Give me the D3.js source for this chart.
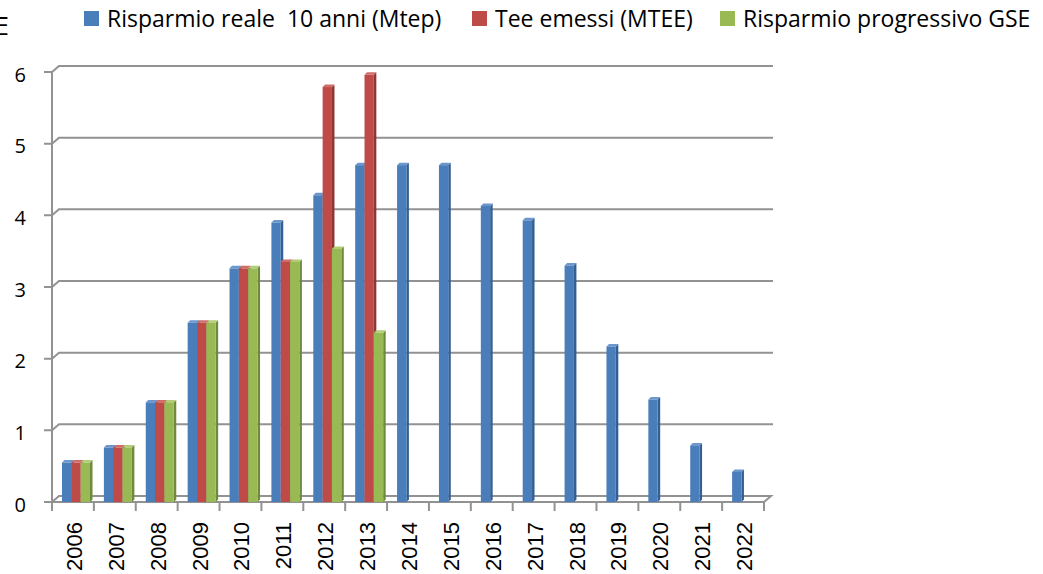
<!DOCTYPE html>
<html lang="it">
<head>
<meta charset="utf-8">
<title>Risparmio energetico</title>
<style>
  body { margin: 0; padding: 0; background: white; }
  svg { display: block; }
  .legend text { font-family: 'Open Sans', sans-serif; font-size: 23px; fill: #000; }
  .ylab text { font-family: 'Open Sans', sans-serif; font-size: 20px; fill: #000; }
  .xlab text { font-family: 'Liberation Sans', Arial, sans-serif; font-size: 22px; fill: #000; }
  .grid { fill: none; stroke: #929292; stroke-width: 2; }
</style>
</head>
<body>
<div id="chart"></div>
<script src="https://cdn.jsdelivr.net/npm/d3@7"></script>
<script>

const years = ["2006","2007","2008","2009","2010","2011","2012","2013","2014","2015","2016","2017","2018","2019","2020","2021","2022"];
const risparmioReale = [0.55, 0.76, 1.39, 2.5, 3.26, 3.9, 4.28, 4.7, 4.7, 4.7, 4.13, 3.93, 3.3, 2.17, 1.43, 0.79, 0.42];
const teeEmessi = [0.55, 0.76, 1.39, 2.5, 3.26, 3.35, 5.79, 5.96];
const risparmioGSE = [0.55, 0.76, 1.39, 2.5, 3.26, 3.35, 3.53, 2.36];
const seriesNames = ["Risparmio reale  10 anni (Mtep)", "Tee emessi (MTEE)", "Risparmio progressivo GSE"];
const yTicks = [0, 1, 2, 3, 4, 5, 6];

const width = 1043, height = 574;
const plotLeft = 52, plotRight = 764, plotBottom = 502, plotTop = 72;
const depthX = 7, depthY = -6;   // offset of the back wall
const side = 2.5;                 // thickness of the bar sides

const colors = [
  {front: "#4a7ebb", side: "#345f94", top: "#6b97cc"},
  {front: "#be4b48", side: "#8f3532", top: "#d16c69"},
  {front: "#98b954", side: "#6f8a3a", top: "#b1cd76"}
];

const series = [risparmioReale, teeEmessi, risparmioGSE];

const svg = d3.select("#chart").append("svg")
  .attr("width", width)
  .attr("height", height);

const x = d3.scaleBand()
  .domain(years)
  .range([plotLeft, plotRight]);

const xSub = d3.scaleBand()
  .domain(d3.range(series.length))
  .range([10, 38]);

const y = d3.scaleLinear()
  .domain([0, 6])
  .range([plotBottom, plotTop]);

// back wall gridlines with the 3d bend
const grid = svg.append("g");

grid.selectAll(null)
  .data(yTicks.filter(function(d){ return d > 0; }))
  .enter()
  .append("path")
  .attr("class", "grid")
  .attr("d", function(d){
    const yy = y(d);
    return "M" + (plotLeft - 8) + "," + yy + "L" + plotLeft + "," + yy +
      "L" + (plotLeft + depthX) + "," + (yy + depthY) + "L" + (plotRight + depthX + 2) + "," + (yy + depthY);
  });

// floor
grid.append("path")
  .attr("class", "grid")
  .attr("d", "M" + (plotLeft - 8) + "," + y(0) + "L" + plotRight + "," + y(0) +
    "L" + (plotRight + depthX) + "," + (y(0) + depthY) +
    "L" + (plotLeft + depthX) + "," + (y(0) + depthY) + "L" + plotLeft + "," + y(0));

// vertical axis
grid.append("path")
  .attr("class", "grid")
  .attr("d", "M" + plotLeft + "," + y(6) + "L" + plotLeft + "," + (y(0) + 9));

// category ticks
grid.selectAll(null)
  .data(years.concat(["end"]))
  .enter()
  .append("path")
  .attr("class", "grid")
  .attr("d", function(d, i){
    const xx = plotLeft + i * x.bandwidth();
    return "M" + xx + "," + y(0) + "L" + xx + "," + (y(0) + 9);
  });

// bars
const bars = svg.append("g");

series.forEach(function(values, s){
  const g = bars.append("g");
  const w = xSub.bandwidth();

  const items = values.map(function(v, i){ return {year: years[i], value: v}; });

  g.selectAll(".side")
    .data(items)
    .enter()
    .append("path")
    .attr("fill", colors[s].side)
    .attr("d", function(d){
      const x1 = x(d.year) + xSub(s) + w, yt = y(d.value);
      return "M" + x1 + "," + yt + "L" + (x1 + side) + "," + (yt - side) +
        "L" + (x1 + side) + "," + (y(0) - side) + "L" + x1 + "," + y(0) + "Z";
    });

  g.selectAll(".topface")
    .data(items)
    .enter()
    .append("path")
    .attr("fill", colors[s].top)
    .attr("d", function(d){
      const x0 = x(d.year) + xSub(s), yt = y(d.value);
      return "M" + x0 + "," + yt + "L" + (x0 + side) + "," + (yt - side) +
        "L" + (x0 + w + side) + "," + (yt - side) + "L" + (x0 + w) + "," + yt + "Z";
    });

  g.selectAll(".front")
    .data(items)
    .enter()
    .append("rect")
    .attr("x", function(d){ return x(d.year) + xSub(s); })
    .attr("y", function(d){ return y(d.value); })
    .attr("width", w)
    .attr("height", function(d){ return y(0) - y(d.value); })
    .attr("fill", colors[s].front);
});

// y labels
const yAxis = d3.axisLeft(y)
  .tickValues(yTicks)
  .tickFormat(d3.format("d"))
  .tickSize(0)
  .tickPadding(26);

svg.append("g")
  .attr("class", "ylab")
  .attr("transform", "translate(" + plotLeft + ",0)")
  .call(yAxis)
  .call(function(g){ g.select(".domain").remove(); })
  .attr("font-size", null)
  .attr("font-family", null)
  .selectAll("text")
  .attr("dy", "0.45em");

// x labels, rotated
svg.append("g")
  .attr("class", "xlab")
  .selectAll("text")
  .data(years)
  .enter()
  .append("text")
  .attr("transform", function(d){
    return "translate(" + (x(d) + x.bandwidth() / 2 + 9) + "," + (y(0) + 20) + ") rotate(-90)";
  })
  .attr("text-anchor", "end")
  .text(function(d){ return d; });

// clipped title letter at top left
svg.append("text")
  .attr("x", 9)
  .attr("y", 35)
  .attr("text-anchor", "end")
  .style("font-family", "'Open Sans', sans-serif")
  .style("font-size", "26px")
  .text("E");

// legend
const legendX = [84, 472, 720];
const legend = svg.append("g")
  .attr("class", "legend");

const items = legend.selectAll("g")
  .data(seriesNames)
  .enter()
  .append("g")
  .attr("transform", function(d, i){ return "translate(" + legendX[i] + ",0)"; });

items.append("rect")
  .attr("x", 0)
  .attr("y", 11)
  .attr("width", 15)
  .attr("height", 15)
  .attr("fill", function(d, i){ return colors[i].front; });

items.append("text")
  .attr("x", 23)
  .attr("y", 27)
  .style("white-space", "pre")
  .text(function(d){ return d; });

</script>
</body>
</html>
